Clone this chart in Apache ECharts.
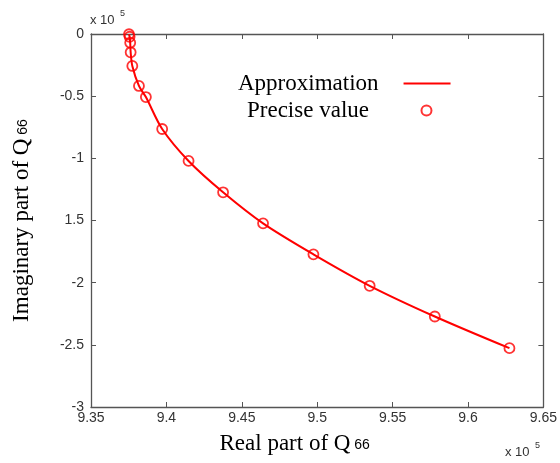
<!DOCTYPE html>
<html>
<head>
<meta charset="utf-8">
<style>html,body{margin:0;padding:0;background:#fff;}#chart{width:560px;height:463px;}</style>
<script src="https://cdn.jsdelivr.net/npm/echarts@6/dist/echarts.min.js"></script>
</head>
<body>
<div id="chart"></div>
<script>
// Values in units of 1e5
var realPart = [9.3752, 9.3756, 9.3760, 9.3763, 9.3774, 9.3818, 9.3864, 9.3972, 9.4147, 9.4376, 9.4641, 9.4975, 9.5348, 9.5780, 9.6275];
var imagPart = [-0.002, -0.022, -0.070, -0.147, -0.257, -0.418, -0.507, -0.764, -1.021, -1.273, -1.523, -1.772, -2.025, -2.272, -2.527];
var xTickLabels = ['9.35', '9.4', '9.45', '9.5', '9.55', '9.6', '9.65'];
var yTickLabels = ['0', '-0.5', '-1', '1.5', '-2', '-2.5', '-3'];

var points = realPart.map(function (x, i) { return [x, imagPart[i]]; });

var chart = echarts.init(document.getElementById('chart'), null, {renderer: 'canvas'});
var axisColor = '#555';
var tickFont = {fontFamily: 'Liberation Sans', fontSize: 14, color: '#333'};
var serif = 'Liberation Serif';

function legendText(padRight) {
  return {
    formatter: function (name) { return '{t|' + name + '}'; },
    textStyle: {rich: {t: {fontFamily: serif, fontSize: 23, color: '#000', padding: [0, padRight, 0, 0]}}}
  };
}

var option = {
  backgroundColor: '#fff',
  animation: false,
  grid: {left: 91, right: 16, top: 34, bottom: 56, containLabel: false},
  legend: [
    Object.assign({
      data: [{name: 'Approximation', icon: 'rect'}], left: 238, top: 72, align: 'right', padding: 0,
      itemWidth: 47, itemHeight: 2, itemStyle: {color: '#ff0000'}
    }, legendText(20)),
    Object.assign({
      data: ['Precise value'], left: 247, top: 99, align: 'right', padding: 0,
      itemWidth: 47, itemHeight: 10
    }, legendText(29))
  ],
  xAxis: [
    {
      type: 'value', min: 9.35, max: 9.65, interval: 0.05,
      axisLine: {show: true, onZero: false, lineStyle: {color: axisColor, width: 1.3}},
      axisTick: {inside: true, length: 5, lineStyle: {color: axisColor}},
      splitLine: {show: false},
      axisLabel: Object.assign({margin: 4, formatter: function (v) {
        return xTickLabels[Math.round((v - 9.35) / 0.05)];
      }}, tickFont),
      name: '{a|Real part of Q}{b| 66}',
      nameLocation: 'middle', nameGap: 25,
      nameTextStyle: {padding: [0, 45, 0, 0], rich: {
        a: {fontFamily: serif, fontSize: 23, color: '#000'},
        b: {fontFamily: 'Liberation Sans', fontSize: 14, color: '#000', padding: [4, 0, 0, 0]}
      }}
    },
    {
      type: 'value', position: 'top', min: 9.35, max: 9.65, interval: 0.05,
      axisLine: {show: true, onZero: false, lineStyle: {color: axisColor, width: 1.3}},
      axisTick: {inside: true, length: 5, lineStyle: {color: axisColor}},
      axisLabel: {show: false}, splitLine: {show: false}
    }
  ],
  yAxis: [
    {
      type: 'value', min: -3, max: 0, interval: 0.5,
      axisLine: {show: true, onZero: false, lineStyle: {color: axisColor, width: 1.3}},
      axisTick: {inside: true, length: 5, lineStyle: {color: axisColor}},
      splitLine: {show: false},
      axisLabel: Object.assign({margin: 7, formatter: function (v) {
        return yTickLabels[Math.round(-v / 0.5)];
      }}, tickFont),
      name: '{a|Imaginary part of Q}{b| 66}',
      nameLocation: 'middle', nameGap: 58, nameRotate: 90,
      nameTextStyle: {padding: [0, 0, 0, 0], rich: {
        a: {fontFamily: serif, fontSize: 23, color: '#000'},
        b: {fontFamily: 'Liberation Sans', fontSize: 14, color: '#000', padding: [4, 0, 0, 0]}
      }}
    },
    {
      type: 'value', position: 'right', min: -3, max: 0, interval: 0.5,
      axisLine: {show: true, onZero: false, lineStyle: {color: axisColor, width: 1.3}},
      axisTick: {inside: true, length: 5, lineStyle: {color: axisColor}},
      axisLabel: {show: false}, splitLine: {show: false}
    }
  ],
  graphic: [
    {type: 'text', left: 90, top: 14, style: {text: 'x 10', fontFamily: 'Liberation Sans', fontSize: 13, fill: '#333'}},
    {type: 'text', left: 120, top: 9, style: {text: '5', fontFamily: 'Liberation Sans', fontSize: 9, fill: '#333'}},
    {type: 'text', left: 505, top: 446, style: {text: 'x 10', fontFamily: 'Liberation Sans', fontSize: 13, fill: '#333'}},
    {type: 'text', left: 535, top: 441, style: {text: '5', fontFamily: 'Liberation Sans', fontSize: 9, fill: '#333'}}
  ],
  series: [
    {
      name: 'Approximation', type: 'line', data: points,
      smooth: 0.3, symbol: 'none', z: 2,
      lineStyle: {color: '#ff0000', width: 2},
      itemStyle: {color: '#ff0000'}
    },
    {
      name: 'Precise value', type: 'scatter', data: points,
      symbol: 'circle', symbolSize: 10, z: 3,
      itemStyle: {color: 'rgba(255,0,0,0)', borderColor: '#ff0000', borderWidth: 1.8}
    }
  ]
};
chart.setOption(option);
</script>
</body>
</html>
